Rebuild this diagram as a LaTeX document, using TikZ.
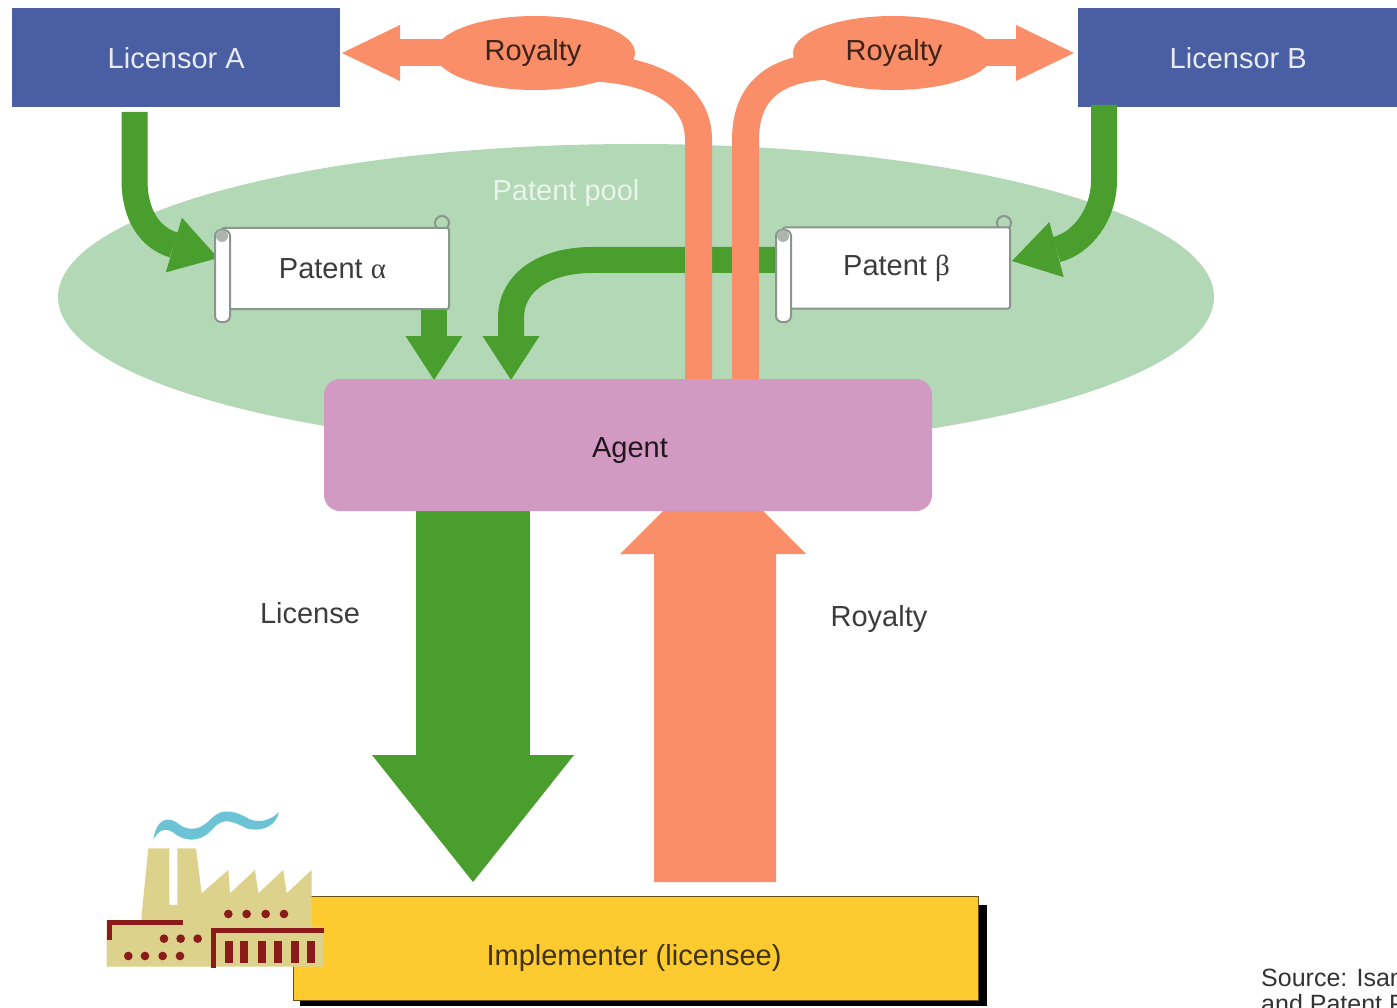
\documentclass[tikz,border=0pt]{standalone}
\usepackage{fontspec}
\setmainfont{Liberation Sans}
\newfontfamily\grk{Liberation Serif}
\usetikzlibrary{arrows.meta,shapes.geometric}
\definecolor{cBlue}{HTML}{4A5FA3}
\definecolor{cPool}{HTML}{B2D8B6}
\definecolor{cGreen}{HTML}{4A9E2E}
\definecolor{cSalmon}{HTML}{FA8E68}
\definecolor{cAgent}{HTML}{D29AC2}
\definecolor{cYellow}{HTML}{FDCA30}
\definecolor{cBody}{HTML}{DDD28C}
\definecolor{cRed}{HTML}{8B1A1A}
\definecolor{cSmoke}{HTML}{6CC3D6}
\definecolor{cScroll}{HTML}{8A968C}
\definecolor{cText}{HTML}{3C3C3C}
\tikzset{
  lbl/.style={font=\fontsize{29}{32}\selectfont,text=cText,inner sep=0pt},
  licensor/.style={fill=cBlue,text=white!88!cBlue,font=\fontsize{29}{32}\selectfont,minimum height=99pt,inner sep=0pt,anchor=north west},
  scrollbox/.style={draw=cScroll,line width=2pt,fill=white,minimum width=227pt,minimum height=81pt,inner sep=0pt,rounded corners=2pt,font=\fontsize{29}{32}\selectfont,text=cText},
  scrollpart/.style={draw=cScroll,line width=2pt,fill=white},
  oval/.style={ellipse,fill=cSalmon,minimum width=200pt,minimum height=74pt,inner sep=0pt},
  gthin/.style={draw=cGreen,line width=26pt,-{Triangle[length=44pt,width=57pt,line width=0pt]}},
  gcurve/.style={draw=cGreen,line width=26pt,-{Triangle[length=46pt,width=57pt,line width=0pt]}},
  sthin/.style={draw=cSalmon,line width=27pt},
  stip/.style={draw=cSalmon,line width=27pt,-{Triangle[length=58pt,width=56pt,line width=0pt]}},
  win/.style={fill=cRed},
}
\begin{document}
\begin{tikzpicture}[x=1pt,y=-1pt]
\useasboundingbox (0,0) rectangle (1397,1008);
\clip (0,0) rectangle (1397,1008);
\fill[white] (0,0) rectangle (1397,1008);

% pool
\node[ellipse,fill=cPool,minimum width=1156pt,minimum height=306pt,inner sep=0pt] (pool) at (636,297) {};
\node[lbl,text=white!72!cPool] (poolt) at (566,193) {Patent pool};

% licensors
\node[licensor,minimum width=328pt] (licA) at (12,8) {Licensor A};
\node[licensor,minimum width=330pt] (licB) at (1078,8) {Licensor B\kern10pt};

% green flows into patents
\coordinate (a0) at (134.5,112);
\coordinate (a1) at (218,258);
\draw[gcurve] (a0) -- (134.5,180) .. controls (134.5,215) and (150,238) .. (a1);
\coordinate (b0) at (1104,105);
\coordinate (b1) at (1012,261);
\draw[gcurve] (b0) -- (1104,180) .. controls (1104,215) and (1082,243) .. (b1);

% patents
\draw[draw=cScroll,line width=2pt] (442,223) circle (7);
\draw[draw=cScroll,line width=2pt] (1004,223) circle (7);
\node[scrollbox] (patA) at (335.5,268.5) {Patent {\grk α}\kern6pt};
\node[scrollbox] (patB) at (896.5,268) {Patent {\grk β}};
\coordinate (c1) at (434,380);
\coordinate (d1) at (511,380);
\begin{scope}[on background layer/.style={}]
\draw[gthin] (patA.south -| c1) -- (c1);
\draw[gthin] (patB.west |- 0,260) -- (592,260) .. controls (545,260) and (511,282) .. (511,318) -- (d1);
\end{scope}
\draw[scrollpart,rounded corners=6pt] (215,230) rectangle (230,322);
\fill[cScroll!70!white] (222,236) circle (6);
\draw[scrollpart,rounded corners=6pt] (776,230) rectangle (791,322);
\fill[cScroll!70!white] (783,236) circle (6);

% big green arrow
\coordinate (e0) at (473,505);
\coordinate (e1) at (473,882);
\draw[draw=cGreen,line width=114pt,-{Triangle[length=127pt,width=202pt,line width=0pt]}] (e0) -- (e1);

% salmon royalty
\coordinate (f0) at (715,882);
\coordinate (f1) at (713,461);
\fill[cSalmon] (654,882) -- (654,554) -- (620,554) -- (f1) -- (806,554) -- (776,554) -- (776,882) -- cycle;

\node[oval] (royL) at (535,53) {};
\node[oval] (royR) at (893,53) {};
\coordinate (g0) at (698.5,385);
\coordinate (h0) at (745.5,385);
\draw[sthin] (g0) -- (698.5,140) .. controls (698.5,100) and (665,72) .. (595,68);
\draw[sthin] (h0) -- (745.5,140) .. controls (745.5,95) and (770,68) .. (830,66);
\coordinate (g1) at (342,53);
\coordinate (h1) at (1074,53);
\draw[stip] (royL.center) -- (g1);
\draw[stip] (royR.center) -- (h1);
\node[lbl,text=black!75!cSalmon] (royLt) at (533,53) {Royalty};
\node[lbl,text=black!75!cSalmon] (royRt) at (894,53) {Royalty};

% agent
\node[fill=cAgent,rounded corners=16pt,minimum width=608pt,minimum height=132pt,inner sep=0pt] (agent) at (628,445) {};
\node[lbl,text=black!85!cAgent] (agentt) at (630,451) {Agent};

% labels
\node[lbl] (lic) at (310,613) {License};
\node[lbl] (roy) at (879,619) {Royalty};

% implementer
\fill[black] (300,905) rectangle (987,1006);
\node[fill=cYellow,draw=black!60!cYellow,line width=1pt,minimum width=685pt,minimum height=104pt,inner sep=0pt] (impl) at (635.5,948) {};
\node[lbl,text=black!75!cYellow] (implt) at (634,958) {Implementer (licensee)};

% factory
\begin{scope}[shift={(90,790)},x=0.3333pt,y=-0.3333pt]
\fill[cBody] (155,375) -- (175,175) -- (238,175) -- (238,345) -- (262,345) -- (262,175) -- (318,175) -- (335,310) -- (415,240) -- (420,310) -- (495,240) -- (505,310) -- (580,240) -- (590,310) -- (665,240) -- (665,410) -- (700,410) -- (700,530) -- (50,530) -- (50,395) -- (155,395) -- cycle;
\draw[cRed,line width=5pt] (58,450) -- (58,397) -- (280,397);
\draw[cRed,line width=5pt] (370,533) -- (370,422) -- (702,422);
\foreach \x in {415,470,527,582} \fill[cRed] (\x,372) circle (13);
\foreach \x in {222,272,323} \fill[cRed] (\x,446) circle (13);
\foreach \x in {115,165,218,270} \fill[cRed] (\x,498) circle (13);
\foreach \x in {416,463,515,565,615,663} \fill[win] (\x-12,453) rectangle (\x+12,518);
\fill[cSmoke] (190,148) .. controls (200,85) and (235,75) .. (270,105) .. controls (310,130) and (340,110) .. (365,85) .. controls (400,50) and (440,65) .. (480,88) .. controls (510,100) and (545,90) .. (567,65) .. controls (560,105) and (520,128) .. (470,115) .. controls (430,95) and (400,80) .. (370,115) .. controls (340,150) and (300,160) .. (260,135) .. controls (230,110) and (210,115) .. (190,148) -- cycle;
\end{scope}

% source
\node[anchor=base west,font=\fontsize{25}{28}\selectfont,text=black!80,inner sep=0pt] (src1) at (1261,986) {Source: Isan};
\node[anchor=base west,font=\fontsize{25}{28}\selectfont,text=black!80,inner sep=0pt] (src2) at (1261,1012) {and Patent P};
\end{tikzpicture}
\end{document}
